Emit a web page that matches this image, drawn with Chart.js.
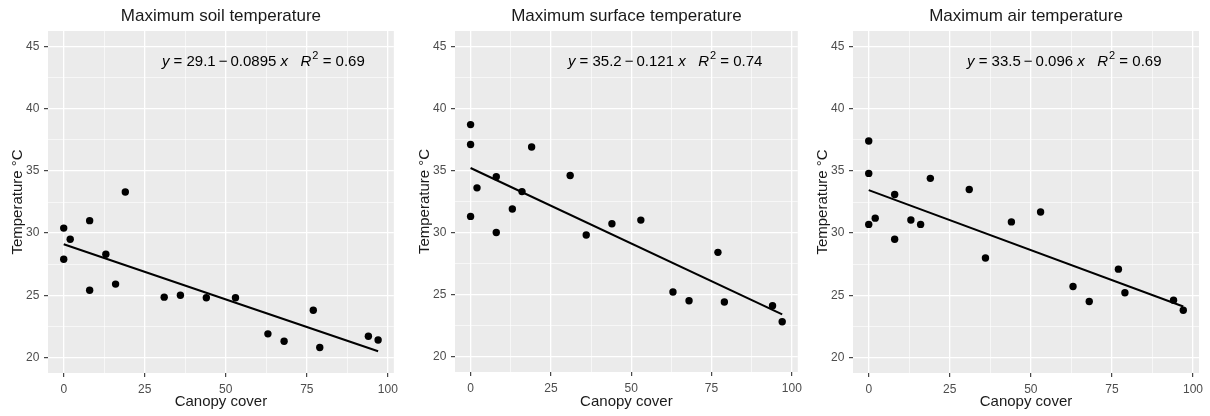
<!DOCTYPE html>
<html>
<head>
<meta charset="utf-8">
<script src="https://cdn.jsdelivr.net/npm/chart.js@4.4.1/dist/chart.umd.min.js"></script>
<style>
  html, body { margin: 0; padding: 0; background: #fff; }
  body { width: 1210px; height: 416px; position: relative; overflow: hidden; }
  canvas { position: absolute; top: 0; }
</style>
</head>
<body>
<canvas id="soil" width="403" height="416" style="left:0px"></canvas>
<canvas id="surface" width="400" height="416" style="left:407px"></canvas>
<canvas id="air" width="405" height="416" style="left:805px"></canvas>
<script>
// values
const titles = ['Maximum soil temperature', 'Maximum surface temperature', 'Maximum air temperature']

const soilCanopy = [0, 0, 2, 8, 8, 13, 16, 19, 31, 36, 44, 53, 63, 68, 77, 79, 94, 97]
const soilTemp = [30.4, 27.9, 29.5, 31.0, 25.4, 28.3, 25.9, 33.3, 24.85, 25.0, 24.8, 24.8, 21.9, 21.3, 23.8, 20.8, 21.7, 21.4]

const surfaceCanopy = [0, 0, 0, 2, 8, 8, 13, 16, 19, 31, 36, 44, 53, 63, 68, 77, 79, 94, 97]
const surfaceTemp = [38.7, 37.1, 31.3, 33.6, 34.5, 30.0, 31.9, 33.3, 36.9, 34.6, 29.8, 30.7, 31.0, 25.2, 24.5, 28.4, 24.4, 24.1, 22.8]

const airCanopy = [0, 0, 0, 2, 8, 8, 13, 16, 19, 31, 36, 44, 53, 63, 68, 77, 79, 94, 97]
const airTemp = [37.4, 34.8, 30.7, 31.2, 33.1, 29.5, 31.05, 30.7, 34.4, 33.5, 28.0, 30.9, 31.7, 25.7, 24.5, 27.1, 25.2, 24.6, 23.8]

// fitted line ends (x, y)
const soilFitX = [0, 97]
const soilFitY = [29.1, 20.5]
const surfaceFitX = [0, 97]
const surfaceFitY = [35.2, 23.4]
const airFitX = [0, 97]
const airFitY = [33.45, 24.1]

const eqIntercept = ['29.1', '35.2', '33.5']
const eqSlope = ['0.0895', '0.121', '0.096']
const eqR2 = ['0.69', '0.74', '0.69']

const xMajor = [0, 25, 50, 75, 100]
const xMinor = [12.5, 37.5, 62.5, 87.5]
const yMajor = [20, 25, 30, 35, 40, 45]
const yMinor = [22.5, 27.5, 32.5, 37.5, 42.5]

const family = '"Liberation Sans", Arial, sans-serif'
Chart.defaults.font.family = family

const panelBg = {
  id: 'panelBg',
  beforeDraw(chart) {
    const { ctx, chartArea: a } = chart
    ctx.save()
    ctx.fillStyle = '#ebebeb'
    ctx.fillRect(a.left, a.top, a.right - a.left, a.bottom - a.top)
    ctx.restore()
  }
}

const eqLabel = {
  id: 'eqLabel',
  afterDatasetsDraw(chart, args, opts) {
    const { ctx, scales: { x, y } } = chart
    let px = x.getPixelForValue(30.3)
    const py = y.getPixelForValue(43.4)
    const parts = [
      ['y', 'it'], [' = ' + opts.a + '\u2009\u2212\u2009' + opts.b + ' ', ''], ['x', 'it'],
      ['   ', ''], ['R', 'it'], ['2', 'sup'], [' = ' + opts.r2, '']
    ]
    ctx.save()
    ctx.fillStyle = '#000'
    ctx.textBaseline = 'alphabetic'
    ctx.textAlign = 'left'
    parts.forEach(([t, s]) => {
      const size = s === 'sup' ? 11 : 15
      ctx.font = (s === 'it' ? 'italic ' : '') + size + 'px ' + family
      ctx.fillText(t, px + (s === 'sup' ? 1 : 0), s === 'sup' ? py - 7 : py)
      px += ctx.measureText(t).width + (s === 'sup' ? 1 : 0)
    })
    ctx.restore()
  }
}

function pairs(xs, ys) {
  return xs.map((v, i) => ({ x: v, y: ys[i] }))
}

function makePanel(id, idx, canopy, temp, fitX, fitY, rightPad, xAxisHeight) {
  new Chart(document.getElementById(id), {
    type: 'scatter',
    data: {
      datasets: [
        {
          type: 'line',
          data: pairs(fitX, fitY),
          borderColor: '#000',
          borderWidth: 2,
          pointRadius: 0,
          fill: false
        },
        {
          data: pairs(canopy, temp),
          backgroundColor: '#000',
          borderWidth: 0,
          pointRadius: 3.7
        }
      ]
    },
    options: {
      responsive: false,
      animation: false,
      layout: { padding: { left: 0, right: rightPad, top: 0, bottom: 0 } },
      plugins: {
        legend: { display: false },
        tooltip: { enabled: false },
        title: {
          display: true,
          text: titles[idx],
          fullSize: false,
          color: '#1a1a1a',
          font: { size: 17, weight: 'normal' },
          padding: { top: 6.6, bottom: 4 }
        },
        eqLabel: { a: eqIntercept[idx], b: eqSlope[idx], r2: eqR2[idx] }
      },
      scales: {
        x: {
          type: 'linear',
          min: -4.85,
          max: 101.85,
          afterBuildTicks: (s) => { s.ticks = [...xMajor, ...xMinor].sort((a, b) => a - b).map(v => ({ value: v })) },
          afterFit: (s) => { s.height = xAxisHeight },
          ticks: {
            autoSkip: false,
            maxRotation: 0,
            padding: 5,
            color: '#4d4d4d',
            font: { size: 12 },
            callback: (v) => xMajor.includes(v) ? String(v) : ''
          },
          grid: {
            color: '#fff',
            lineWidth: (c) => xMajor.includes(c.tick && c.tick.value) ? 1.3 : 0.6,
            tickLength: 4,
            tickWidth: 1.1,
            tickColor: (c) => xMajor.includes(c.tick && c.tick.value) ? '#333' : 'rgba(0,0,0,0)'
          },
          border: { display: false },
          title: {
            display: true,
            text: 'Canopy cover',
            color: '#1a1a1a',
            font: { size: 15 },
            padding: { top: 0, bottom: 5 }
          }
        },
        y: {
          type: 'linear',
          min: 18.75,
          max: 46.25,
          afterBuildTicks: (s) => { s.ticks = [...yMajor, ...yMinor].sort((a, b) => a - b).map(v => ({ value: v })) },
          afterFit: (s) => { s.width = 48 },
          ticks: {
            autoSkip: false,
            padding: 4.7,
            color: '#4d4d4d',
            font: { size: 12 },
            callback: (v) => yMajor.includes(v) ? String(v) : ''
          },
          grid: {
            color: '#fff',
            lineWidth: (c) => yMajor.includes(c.tick && c.tick.value) ? 1.3 : 0.6,
            tickLength: 4,
            tickWidth: 1.1,
            tickColor: (c) => yMajor.includes(c.tick && c.tick.value) ? '#333' : 'rgba(0,0,0,0)'
          },
          border: { display: false },
          title: {
            display: true,
            text: 'Temperature °C',
            color: '#1a1a1a',
            font: { size: 15 },
            padding: { top: 9, bottom: 0 }
          }
        }
      }
    },
    plugins: [panelBg, eqLabel]
  })
}

makePanel('soil', 0, soilCanopy, soilTemp, soilFitX, soilFitY, 9, 43)
makePanel('surface', 1, surfaceCanopy, surfaceTemp, surfaceFitX, surfaceFitY, 8, 44)
makePanel('air', 2, airCanopy, airTemp, airFitX, airFitY, 11, 43)
</script>
</body>
</html>
